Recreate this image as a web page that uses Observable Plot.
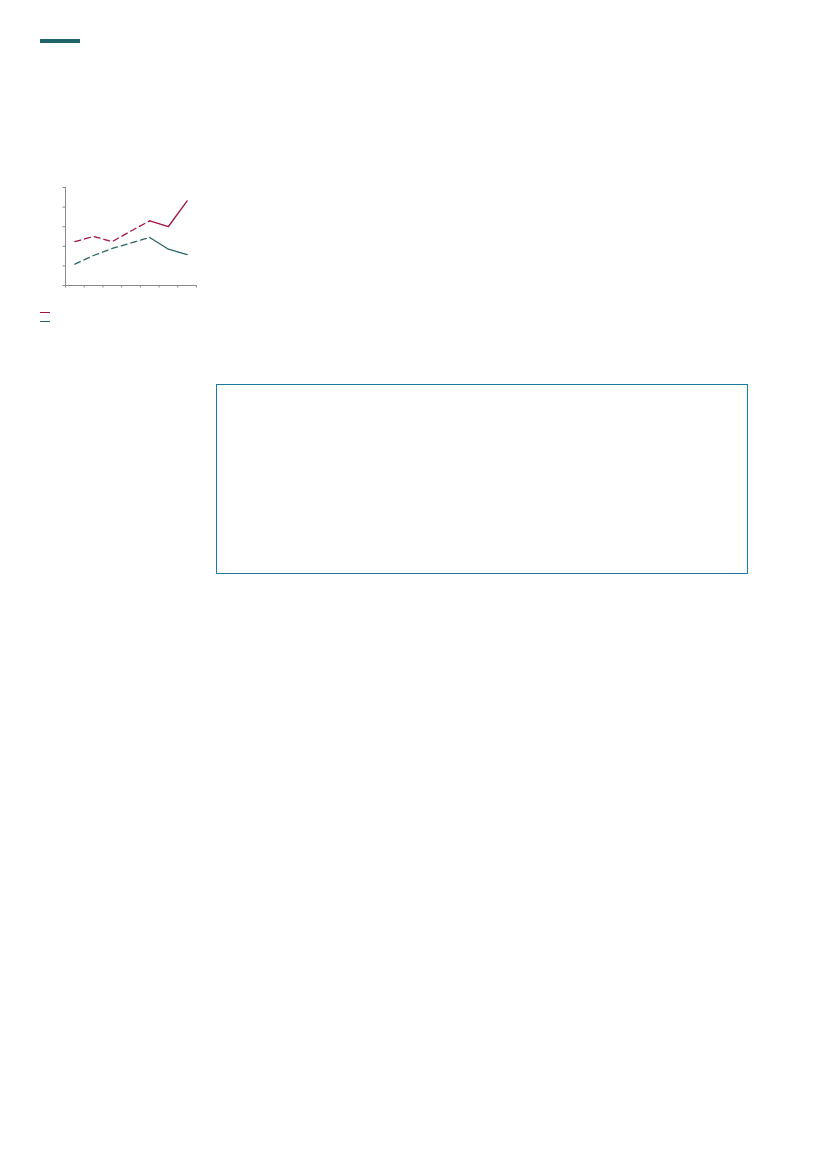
<!DOCTYPE html>
<html>
<head>
<meta charset="utf-8">
<script src="https://cdn.jsdelivr.net/npm/d3@7"></script>
<script src="https://cdn.jsdelivr.net/npm/@observablehq/plot@0.6"></script>
<style>
  html, body { margin: 0; padding: 0; background: #fff; }
  body { width: 827px; height: 1169px; position: relative; font-family: "Noto Sans", sans-serif; }
  #bar { position: absolute; left: 40px; top: 39px; width: 40px; height: 4px; background: #1f6468; }
  #chart { position: absolute; left: 55px; top: 180px; }
  .leg { position: absolute; left: 40px; width: 10px; height: 0; border-top: 1.3px solid; }
  #box { position: absolute; left: 216px; top: 384px; width: 530px; height: 188px; border: 1.3px solid #1a7aa0; }
</style>
</head>
<body>
<div id="bar"></div>
<div id="chart"></div>
<div class="leg" style="top:312px;border-color:#a3123f"></div>
<div class="leg" style="top:321px;border-color:#2a6466"></div>
<div id="box"></div>
<script>
const categories = ["1", "2", "3", "4", "5", "6", "7"];
const seriesA = [2.24, 2.5, 2.24, 2.78, 3.3, 3.01, 4.32];
const seriesB = [1.09, 1.53, 1.89, 2.17, 2.45, 1.85, 1.58];
const yTicks = [0, 1, 2, 3, 4, 5];
const splitIndex = 4;

const colorA = "#a3123f";
const colorB = "#2a6466";
const axisColor = "#8a8a8a";

const rows = (vals) => vals.map((v, i) => ({ i: i + 0.5, cat: categories[i], v }));
const A = rows(seriesA), B = rows(seriesB);
const n = categories.length;

const plot = Plot.plot({
  width: 150,
  height: 115,
  marginLeft: 10,
  marginTop: 7,
  marginRight: 9,
  marginBottom: 10,
  style: { background: "transparent" },
  x: { type: "linear", domain: [0, n] },
  y: { type: "linear", domain: [0, 5] },
  marks: [
    Plot.axisY({ ticks: yTicks, tickSize: 2.5, tickFormat: () => "", stroke: axisColor, label: null }),
    Plot.axisX({ ticks: d3.range(0, n + 1), tickSize: 2.5, tickFormat: () => "", stroke: axisColor, label: null }),
    Plot.ruleX([0], { stroke: axisColor }),
    Plot.ruleY([0], { stroke: axisColor }),
    Plot.line(A.slice(0, splitIndex + 1), { x: "i", y: "v", stroke: colorA, strokeWidth: 1.3, strokeDasharray: "6,4" }),
    Plot.line(A.slice(splitIndex), { x: "i", y: "v", stroke: colorA, strokeWidth: 1.3 }),
    Plot.line(B.slice(0, splitIndex + 1), { x: "i", y: "v", stroke: colorB, strokeWidth: 1.3, strokeDasharray: "6,4" }),
    Plot.line(B.slice(splitIndex), { x: "i", y: "v", stroke: colorB, strokeWidth: 1.3 })
  ]
});
document.getElementById("chart").appendChild(plot);
</script>
</body>
</html>
